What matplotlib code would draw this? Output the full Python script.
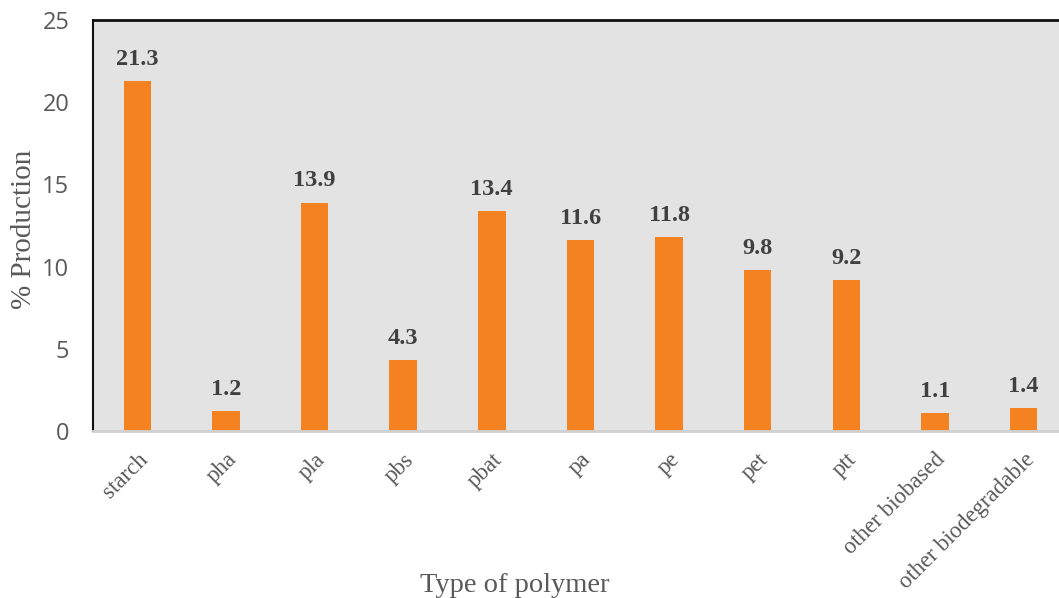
import matplotlib.pyplot as plt
import numpy as np

polymers = ["starch", "pha", "pla", "pbs", "pbat", "pa", "pe", "pet", "ptt",
            "other biobased", "other biodegradable"]
production = [21.3, 1.2, 13.9, 4.3, 13.4, 11.6, 11.8, 9.8, 9.2, 1.1, 1.4]

fig = plt.figure(figsize=(10.59, 5.98), dpi=100)
ax = fig.add_axes([0.0878, 0.279, 0.9122, 0.6876])
ax.set_facecolor("#e3e3e3")

x = np.arange(len(polymers))
bars = ax.bar(x, production, width=0.31, color="#f58220", zorder=2)

for xi, v in zip(x, production):
    ax.annotate(f"{v}", (xi, v), textcoords="offset points", xytext=(0, 8),
                ha="center", va="bottom", fontsize=17.5, fontweight="bold",
                family="Liberation Serif", color="#404040")

ax.set_xlim(-0.5, 10.4)
ax.set_ylim(0, 25)
ax.set_yticks([0, 5, 10, 15, 20, 25])
ax.set_xticks(x)
ax.set_xticklabels(polymers, rotation=45, ha="right", rotation_mode="anchor",
                   family="Liberation Serif", fontsize=16.5, color="#595959")
for lbl in ax.get_yticklabels():
    lbl.set_family("Open Sans")
    lbl.set_fontsize(17)
    lbl.set_color("#595959")
ax.tick_params(axis="both", length=0)
ax.tick_params(axis="y", pad=17)
ax.tick_params(axis="x", pad=13)

ax.spines["right"].set_visible(False)
ax.spines["top"].set_linewidth(2)
ax.spines["top"].set_color("#111111")
ax.spines["left"].set_linewidth(1.5)
ax.spines["left"].set_color("#111111")
ax.spines["bottom"].set_linewidth(2)
ax.spines["bottom"].set_color("#d0d0d0")

ax.set_ylabel("% Production", family="Liberation Serif", fontsize=21,
              color="#595959")
ax.yaxis.set_label_coords(-0.058, 0.49)
ax.set_xlabel("Type of polymer", family="Liberation Serif", fontsize=20.5,
              color="#595959")
ax.xaxis.set_label_coords(0.437, -0.345)

fig.savefig("out.png", dpi=100)
